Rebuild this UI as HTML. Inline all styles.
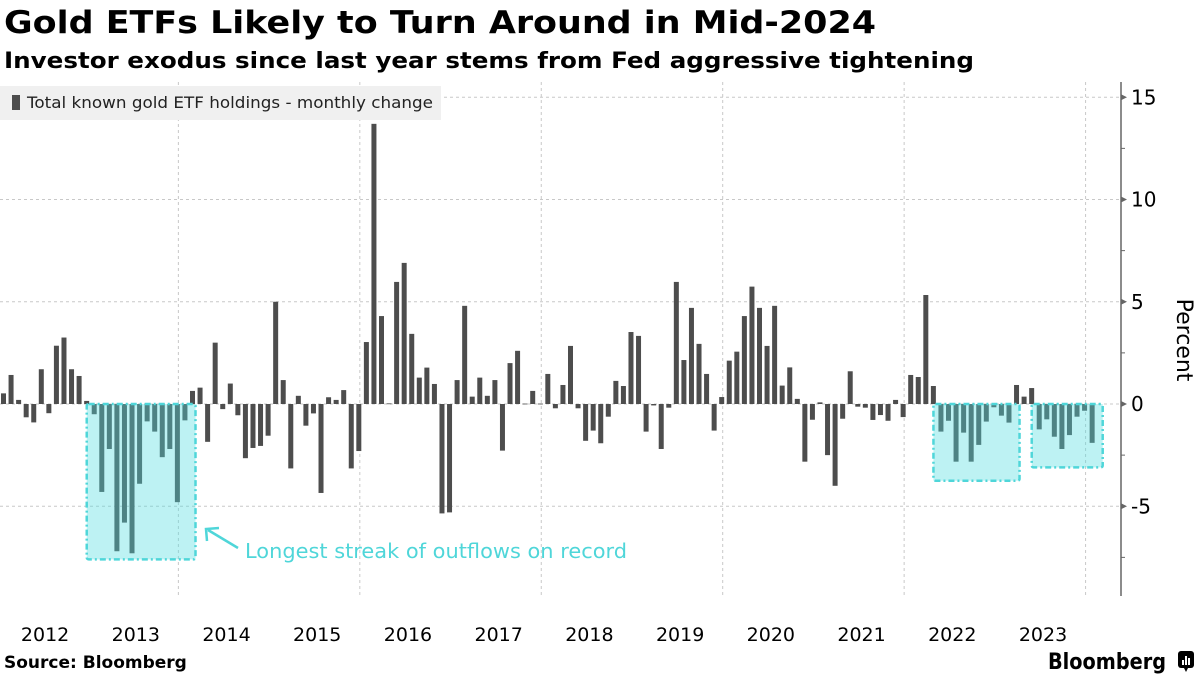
<!DOCTYPE html>
<html><head><meta charset="utf-8"><style>
html,body{margin:0;padding:0;background:#fff;width:1200px;height:675px;overflow:hidden}
svg{display:block;font-family:"DejaVu Sans","Liberation Sans",sans-serif}
</style></head><body>
<svg id="chart" width="1200" height="675" viewBox="0 0 1200 675">
<text x="4" y="33" font-size="31" font-weight="bold" fill="#000" textLength="872" lengthAdjust="spacingAndGlyphs">Gold ETFs Likely to Turn Around in Mid-2024</text>
<text x="4" y="68" font-size="22" font-weight="bold" fill="#000" textLength="970" lengthAdjust="spacingAndGlyphs">Investor exodus since last year stems from Fed aggressive tightening</text>
<g id="grid"></g>
<g id="boxes"></g>
<g id="bars"></g>
<g id="overlay"></g>
<g id="axis"></g>
<g id="xaxis"></g>
<g>
<rect x="0" y="86" width="441" height="34" fill="#f0f0f0"/>
<rect x="12" y="95" width="8" height="15" fill="#4d4d4d"/>
<text x="27" y="108" font-size="16" fill="#222" textLength="406" lengthAdjust="spacingAndGlyphs">Total known gold ETF holdings - monthly change</text>
</g>
<g>
<line x1="238" y1="548" x2="208" y2="530" stroke="#4fd6d9" stroke-width="2.5"/>
<polyline points="207,541 206,529 219,528" fill="none" stroke="#4fd6d9" stroke-width="2.5"/>
<text x="245" y="558" font-size="20" fill="#4fd6d9" textLength="382" lengthAdjust="spacingAndGlyphs">Longest streak of outflows on record</text>
</g>
<text transform="translate(1177,340) rotate(90)" text-anchor="middle" font-size="22" fill="#000">Percent</text>
<text x="4" y="668" font-size="17" font-weight="bold" fill="#000">Source: Bloomberg</text>
<text x="1048" y="669" font-size="22" font-weight="bold" fill="#000" textLength="118" lengthAdjust="spacingAndGlyphs">Bloomberg</text>
<g>
<rect x="1178" y="651" width="16" height="17" rx="3" fill="#000"/>
<polygon points="1184,668 1188,668 1186,672" fill="#000"/>
<rect x="1182" y="660" width="2" height="5" fill="#fff"/><rect x="1185" y="656" width="2" height="9" fill="#fff"/><rect x="1188" y="658" width="2" height="7" fill="#fff"/>
</g>
</svg>
<script>
const startYear = 2012;
const values = [
0.52,1.42,0.2,-0.65,-0.9,1.7,-0.45,2.85,3.25,1.7,1.37,0.15,
-0.5,-4.3,-2.2,-7.2,-5.8,-7.3,-3.9,-0.85,-1.35,-2.6,-2.2,-4.8,
-0.8,0.64,0.8,-1.85,3.0,-0.25,1.0,-0.55,-2.65,-2.15,-2.05,-1.55,
5.0,1.17,-3.15,0.4,-1.06,-0.46,-4.35,0.33,0.2,0.68,-3.15,-2.3,
3.03,13.7,4.3,0.03,5.97,6.9,3.43,1.29,1.78,0.98,-5.35,-5.3,
1.17,4.8,0.36,1.29,0.4,1.17,-2.28,2.0,2.6,0.02,0.64,0.02,
1.47,-0.21,0.93,2.84,-0.21,-1.8,-1.3,-1.92,-0.62,1.13,0.88,3.52,
3.33,-1.35,-0.07,-2.2,-0.18,5.97,2.15,4.7,2.94,1.47,-1.3,0.34,
2.12,2.56,4.3,5.74,4.7,2.84,4.8,0.9,1.79,0.25,-2.82,-0.77,
0.08,-2.5,-4.0,-0.72,1.6,-0.13,-0.18,-0.78,-0.54,-0.82,0.2,-0.64,
1.42,1.32,5.33,0.88,-1.35,-0.82,-2.82,-1.4,-2.82,-2.0,-0.86,-0.16,
-0.57,-0.91,0.93,0.36,0.78,-1.24,-0.75,-1.6,-2.2,-1.52,-0.62,-0.33,-1.9
];
const yearLabels = ["2012","2013","2014","2015","2016","2017","2018","2019","2020","2021","2022","2023"];
const yTicks = [15,10,5,0,-5];
const yMinorTicks = [12.5,7.5,2.5,-2.5,-7.5];
// highlight periods: [startIndex, endIndex, bottom value]
const highlightStart = [12, 124, 137];
const highlightEnd = [25, 134, 145];
const highlightBottom = [-7.6, -3.75, -3.1];

const NS = "http://www.w3.org/2000/svg";
const xStep = 7.56, x0 = 3.5;
function xScale(i){ return x0 + i*xStep; }
function yScale(v){ return 404 - v*20.45; }
function mk(tag, attrs, parent){ const e=document.createElementNS(NS,tag); for(const k in attrs) e.setAttribute(k,attrs[k]); parent.appendChild(e); return e; }

const grid = document.getElementById('grid');
yTicks.forEach(t=>{
  const l = mk('line',{x1:0,x2:1121,y1:yScale(t),y2:yScale(t),stroke:'#c8c8c8','stroke-width':1,'stroke-dasharray':'3,3'},grid);
  
  
});
for(let k=1;k<=6;k++){
  const x = xScale(24*k-1)+1;
  const l = mk('line',{x1:x,x2:x,y1:82,y2:598,stroke:'#c8c8c8','stroke-width':1,'stroke-dasharray':'3,3'},grid);
  
  
}

const overlay = document.getElementById('overlay');
for(let h=0;h<highlightStart.length;h++){
  const xa = xScale(highlightStart[h])-7.5, xb = xScale(highlightEnd[h])+3;
  const r = mk('rect',{x:xa,y:yScale(0),width:xb-xa,height:yScale(highlightBottom[h])-yScale(0),fill:'rgba(80,220,223,0.376)'},overlay);
  
  
  const b = mk('rect',{x:xa,y:yScale(0),width:xb-xa,height:yScale(highlightBottom[h])-yScale(0),fill:'none',stroke:'#4fd6d9','stroke-width':2.5,'stroke-dasharray':'6,3,2,3',rx:2},overlay);
  
  
}

const bars = document.getElementById('bars');
values.forEach((v,i)=>{
  const y = Math.min(yScale(v), yScale(0));
  const h = Math.max(Math.abs(yScale(v)-yScale(0)), 0.8);
  const r = mk('rect',{x:xScale(i)-2.5,y:y,width:5,height:h,fill:'#4d4d4d'},bars);
  
  
});

const axis = document.getElementById('axis');
const al = mk('line',{x1:1121,x2:1121,y1:82,y2:596,stroke:'#666','stroke-width':1.5},axis);


yTicks.forEach(t=>{
  const y=yScale(t);
  const p = mk('polygon',{points:`${1121},${y-3} ${1127},${y} ${1121},${y+3}`,fill:'#666'},axis);
  
  
  const tx = mk('text',{x:1131,y:y+7,'font-size':20,fill:'#000'},axis);
  tx.textContent = String(t);
  
  
});
yMinorTicks.forEach(t=>{
  const l = mk('line',{x1:1121,x2:1125,y1:yScale(t),y2:yScale(t),stroke:'#666','stroke-width':1},axis);
  
  
});

const xaxis = document.getElementById('xaxis');
yearLabels.forEach((lab,k)=>{
  const t = mk('text',{x:xScale(12*k+5.5),y:641,'font-size':19,fill:'#000','text-anchor':'middle'},xaxis);
  t.textContent = lab;
  
  
});
</script>
</body></html>
